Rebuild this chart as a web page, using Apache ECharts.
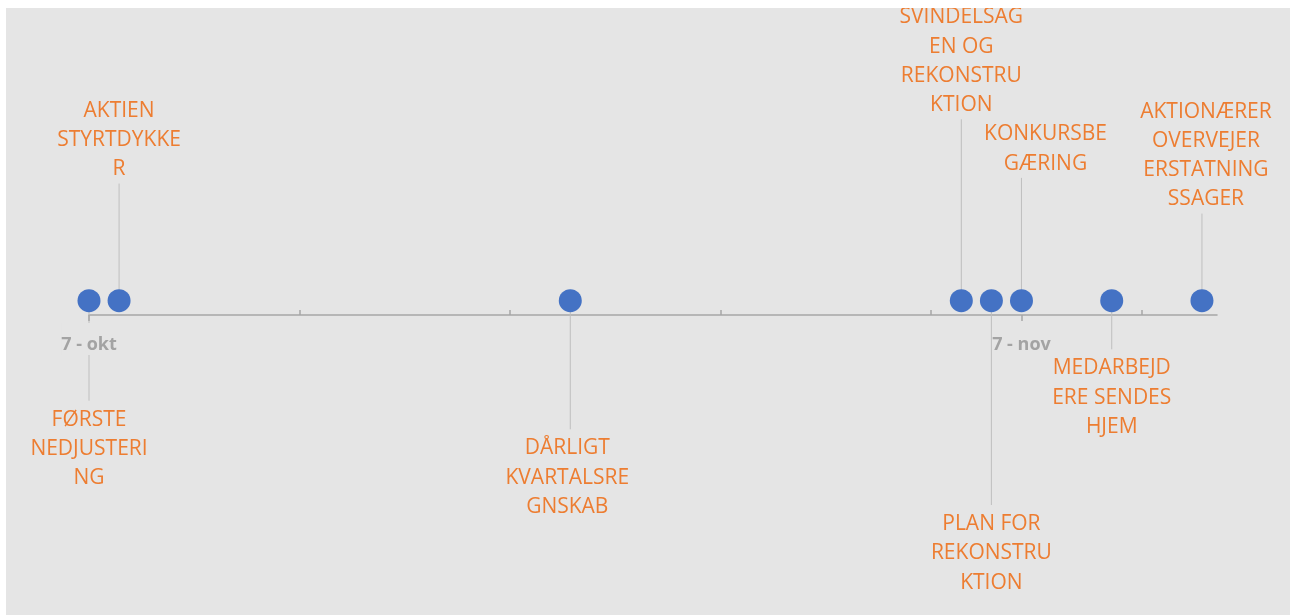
<!DOCTYPE html>
<html>
<head>
<meta charset="utf-8">
<script src="https://cdn.jsdelivr.net/npm/echarts@6/dist/echarts.min.js"></script>
<style>
  html, body { margin: 0; padding: 0; background: #ffffff; }
  #chart { position: absolute; left: 6px; top: 8px; width: 1284px; height: 607px; background: #e5e5e5; overflow: hidden; }
</style>
</head>
<body>
<div id="chart"></div>
<script>
// Timeline events: date, label text (wrapped as shown) and label height above (+) / below (-) the axis
const eventDates = ['2023-10-07', '2023-10-08', '2023-10-23', '2023-11-05', '2023-11-06', '2023-11-07', '2023-11-10', '2023-11-13'];
const eventLabels = [
  'FØRSTE\nNEDJUSTERI\nNG',
  'AKTIEN\nSTYRTDYKKE\nR',
  'DÅRLIGT\nKVARTALSRE\nGNSKAB',
  'SVINDELSAG\nEN OG\nREKONSTRU\nKTION',
  'PLAN FOR\nREKONSTRU\nKTION',
  'KONKURSBE\nGÆRING',
  'MEDARBEJD\nERE SENDES\nHJEM',
  'AKTIONÆRER\nOVERVEJER\nERSTATNING\nSSAGER'
];
const labelHeights = [-6, 9.2, -8, 13.7, -13.3, 9.6, -2.4, 7.1];
const markerLevel = 1;

// Axis range and ticks
const axisStart = '2023-10-07';
const axisEnd = '2023-11-13T12:00';
const majorTickDates = ['2023-10-07', '2023-11-07'];
const minorTickDates = ['2023-10-14', '2023-10-21', '2023-10-28', '2023-11-04', '2023-11-11'];
const monthNames = ['jan', 'feb', 'mar', 'apr', 'maj', 'jun', 'jul', 'aug', 'sep', 'okt', 'nov', 'dec'];

function toTime(s) {
  const [d, t] = s.split('T');
  const [y, m, dd] = d.split('-').map(Number);
  const [hh, mm] = t ? t.split(':').map(Number) : [0, 0];
  return Date.UTC(y, m - 1, dd, hh, mm);
}

const eventTimes = eventDates.map(toTime);
const leaderData = eventTimes.map((t, i) => [t, labelHeights[i], eventLabels[i]]);
const markerData = eventTimes.map(t => [t, markerLevel]);

// Label styling; a few labels are nudged sideways (pixels) to keep them clear of neighbours
const labelFont = '21px "Open Sans", sans-serif';
const labelNudgeX = { 2: -3, 5: 24, 7: 4 };
const axisColor = '#a6a6a6';

const chart = echarts.init(document.getElementById('chart'), null, { renderer: 'canvas' });

chart.setOption({
  animation: false,
  backgroundColor: '#e5e5e5',
  grid: { left: 83, right: 73, top: 7, bottom: 300 },
  xAxis: [
    {
      type: 'value',
      position: 'bottom',
      min: toTime(axisStart),
      max: toTime(axisEnd),
      axisLine: { show: true, lineStyle: { color: axisColor, width: 1.5 } },
      axisTick: { show: true, inside: true, length: 5, customValues: minorTickDates.map(toTime), lineStyle: { color: axisColor, width: 1.5 } },
      axisLabel: { show: false },
      splitLine: { show: false }
    },
    {
      type: 'value',
      position: 'bottom',
      z: 3,
      min: toTime(axisStart),
      max: toTime(axisEnd),
      axisLine: { show: false },
      axisTick: { show: true, inside: false, length: 6, customValues: majorTickDates.map(toTime), lineStyle: { color: axisColor, width: 1.5 } },
      axisLabel: {
        show: true,
        customValues: majorTickDates.map(toTime),
        margin: 8,
        color: '#a3a3a3',
        fontFamily: '"Open Sans", sans-serif',
        fontWeight: 'bold',
        fontSize: 18,
        lineHeight: 20,
        backgroundColor: '#e5e5e5',
        padding: [12, 0, 0, 0],
        formatter: v => {
          const d = new Date(v);
          return d.getUTCDate() + ' - ' + monthNames[d.getUTCMonth()];
        }
      },
      splitLine: { show: false }
    }
  ],
  yAxis: { type: 'value', show: false, min: 0, max: 21 },
  series: [
    {
      type: 'custom',
      z: 2,
      clip: false,
      data: leaderData,
      renderItem: (params, api) => {
        const t = api.value(0);
        const h = api.value(1);
        const text = leaderData[params.dataIndex][2];
        const base = api.coord([t, markerLevel]);
        const end = api.coord([t, h]);
        const below = h < 0;
        const dx = labelNudgeX[params.dataIndex] || 0;
        return {
          type: 'group',
          children: [
            {
              type: 'line',
              shape: { x1: base[0], y1: base[1], x2: end[0], y2: end[1] },
              style: { stroke: '#bfbfbf', lineWidth: 1 }
            },
            {
              type: 'text',
              x: end[0] + dx,
              y: below ? end[1] + 4.5 : end[1] + 0.5,
              style: {
                text: text,
                font: labelFont,
                fill: '#ed7d31',
                align: 'center',
                verticalAlign: below ? 'top' : 'bottom',
                lineHeight: 29.3
              }
            }
          ]
        };
      }
    },
    {
      type: 'scatter',
      z: 4,
      data: markerData,
      symbol: 'circle',
      symbolSize: 23,
      itemStyle: { color: '#4472c4', opacity: 1 }
    }
  ]
});
</script>
</body>
</html>
